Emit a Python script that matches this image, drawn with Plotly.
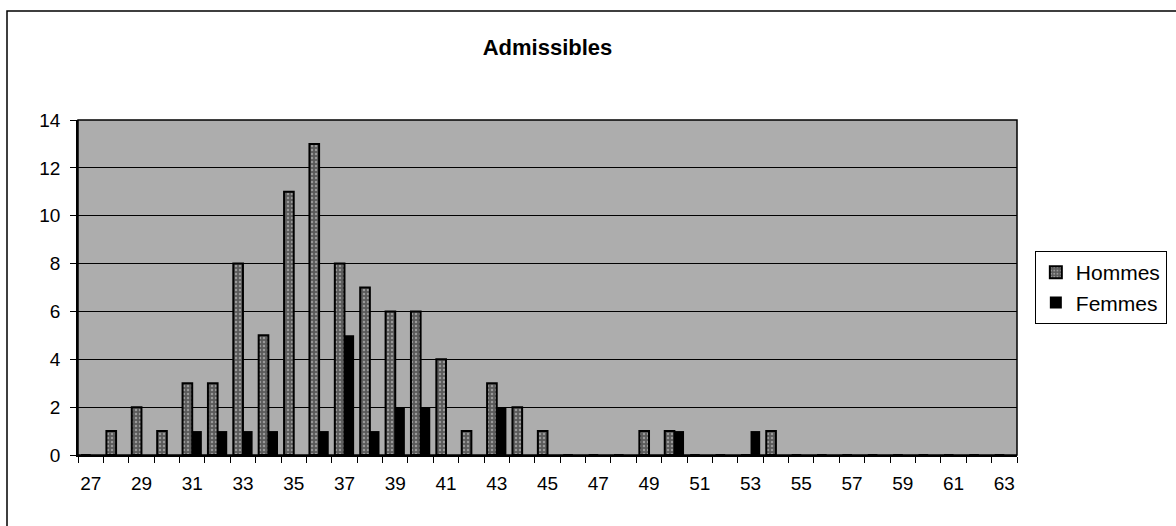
import plotly.graph_objects as go

ages = list(range(27, 64))
hommes_vals = {28: 1, 29: 2, 30: 1, 31: 3, 32: 3, 33: 8, 34: 5, 35: 11, 36: 13, 37: 8,
               38: 7, 39: 6, 40: 6, 41: 4, 42: 1, 43: 3, 44: 2, 45: 1, 49: 1, 50: 1, 54: 1}
femmes_vals = {31: 1, 32: 1, 33: 1, 34: 1, 36: 1, 37: 5, 38: 1, 39: 2, 40: 2, 43: 2,
               50: 1, 53: 1}
hommes = [hommes_vals.get(a, 0) for a in ages]
femmes = [femmes_vals.get(a, 0) for a in ages]
tick_labels = list(range(27, 64, 2))

FONT = "Liberation Sans, Arial, sans-serif"

fig = go.Figure()
fig.add_trace(go.Bar(
    x=ages, y=hommes, name="Hommes",
    marker=dict(color="#6a6a6a", line=dict(color="#000000", width=2),
                pattern=dict(shape=".", fgcolor="#d8d8d8", bgcolor="#5a5a5a",
                             size=4, solidity=0.3)),
))
fig.add_trace(go.Bar(
    x=ages, y=femmes, name="Femmes",
    marker=dict(color="#000000", line=dict(color="#000000", width=0)),
))

fig.update_layout(
    width=1176, height=526,
    margin=dict(l=78, r=159, t=120, b=71, autoexpand=False),
    paper_bgcolor="white",
    plot_bgcolor="#adadad",
    barmode="group",
    bargap=0.24,
    bargroupgap=0,
    font=dict(family=FONT, size=19, color="black"),
    title=dict(text="<b>Admissibles</b>", x=0.5, xref="paper", xanchor="center",
               y=1 - 47 / 526, yanchor="middle",
               font=dict(family=FONT, size=22, color="black")),
    legend=dict(x=1.019, xanchor="left", y=0.5, yanchor="middle",
                bordercolor="black", borderwidth=1, bgcolor="white",
                font=dict(family=FONT, size=21), tracegroupgap=0,
                itemwidth=30),
    showlegend=True,
)

fig.update_xaxes(
    range=[26.5, 63.5],
    tickmode="array", tickvals=tick_labels, ticktext=[str(t) for t in tick_labels],
    ticks="", showgrid=False, zeroline=False,
    showline=True, linecolor="black", linewidth=1.5,
    minor=dict(tick0=26.5, dtick=1, ticks="outside", ticklen=6, tickcolor="black",
               showgrid=False),
    ticklabelstandoff=10,
)
fig.update_yaxes(
    range=[0, 14], dtick=2, tick0=0,
    ticks="outside", ticklen=6, tickcolor="black",
    showgrid=True, gridcolor="black", gridwidth=1,
    zeroline=False, showline=True, linecolor="black", linewidth=1.5,
    mirror=False, ticklabelstandoff=6,
)

# plot area frame (top/right)
fig.add_shape(type="rect", xref="paper", yref="paper", x0=0, y0=0, x1=1, y1=1,
              line=dict(color="black", width=1.5), fillcolor="rgba(0,0,0,0)", layer="above")
# outer chart frame
fig.add_shape(type="rect", xref="paper", yref="paper",
              x0=(7 - 78) / 939, x1=(1200 - 78) / 939,
              y0=(455 - 540) / 335, y1=(455 - 11) / 335,
              line=dict(color="black", width=1.5), fillcolor="rgba(0,0,0,0)")

fig.write_html("out.html")
